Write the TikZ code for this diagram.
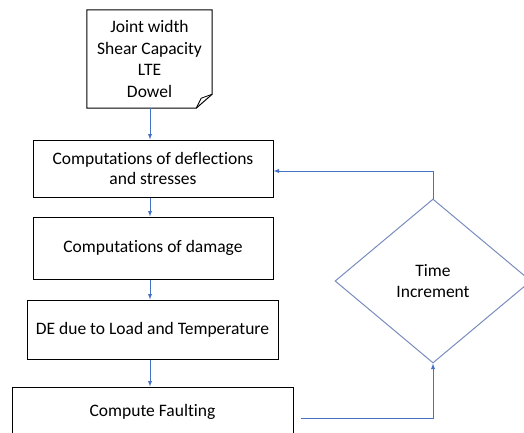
\documentclass[tikz,border=0pt]{standalone}
\usepackage{fontspec}
\setmainfont[Ligatures=NoCommon]{Carlito}
\usepackage{xcolor}
\definecolor{flowblue}{RGB}{68, 114, 196}
\definecolor{flowgrey}{RGB}{120, 140, 190}
\usetikzlibrary{shapes.geometric}
\tikzset{
  % --- BOXES ---
  note-box/.style={
    font=\fontsize{17.5}{21.5}\selectfont,
    align=center,
    inner sep=0pt,
    minimum width=125pt,
    minimum height=98pt
  },
  proc-box/.style={
    draw=black,
    fill=white,
    line width=1pt,
    font=\fontsize{17.5}{20.5}\selectfont,
    align=center,
    inner sep=0pt
  },
  decision/.style={
    diamond,
    draw=flowgrey,
    line width=1pt,
    font=\fontsize{17.5}{21}\selectfont,
    align=center,
    inner sep=0pt,
    aspect=1.2,
    minimum width=196pt,
    minimum height=164pt
  },
  % --- ARROWS ---
  arrw/.style={
    draw=flowblue,
    line width=0.9pt,
    -latex
  },
}
\begin{document}
\begin{tikzpicture}[x=1pt, y=-1pt]

  \clip (0,0) rectangle (524,432);
  \useasboundingbox (0,0) rectangle (524,432);

  % --- input note
  \node[note-box] (note) at (149.5, 59) {Joint width\\Shear Capacity\\LTE\\Dowel};
  \draw[line width=1pt] (note.north west) -- (note.north east)
    -- ([yshift=14pt]note.south east) -- ([xshift=-16pt]note.south east)
    -- (note.south west) -- cycle;
  \draw[line width=0.8pt] ([xshift=-16pt]note.south east)
    .. controls ([xshift=-14pt, yshift=5pt]note.south east) .. ([xshift=-11pt, yshift=10pt]note.south east)
    -- ([yshift=14pt]note.south east);

  % --- process column
  \node[proc-box, minimum width=240pt, minimum height=57pt] (defl) at (153, 168.5) {Computations of deflections\\and stresses};
  \node[proc-box, minimum width=240pt, minimum height=62pt] (damage) at (153, 248) {Computations of damage};
  \node[proc-box, minimum width=251pt, minimum height=59pt] (de) at (152.5, 329.5) {DE due to Load and Temperature};
  \node[proc-box, minimum width=281pt, minimum height=50pt] (fault) at (152.5, 412) {Compute Faulting};

  % --- loop
  \node[decision] (time) at (433, 281) {Time\\Increment};

  % --- arrows
  \draw[arrw] ([xshift=0.5pt]note.south) -- ([xshift=0.5pt]note.south |- defl.north);
  \draw[arrw] ([xshift=-3pt]defl.south) -- ([xshift=-3pt]defl.south |- damage.north);
  \draw[arrw] ([xshift=-3pt]damage.south) -- ([xshift=-3pt]damage.south |- de.north);
  \draw[arrw] ([xshift=-2.5pt]de.south) -- ([xshift=-2.5pt]de.south |- fault.north);
  \draw[arrw] ([xshift=7pt, yshift=-6pt]fault.east) -| (time.south);
  \draw[arrw] (time.north) |- ([yshift=-2.5pt]defl.east);

\end{tikzpicture}
\end{document}
